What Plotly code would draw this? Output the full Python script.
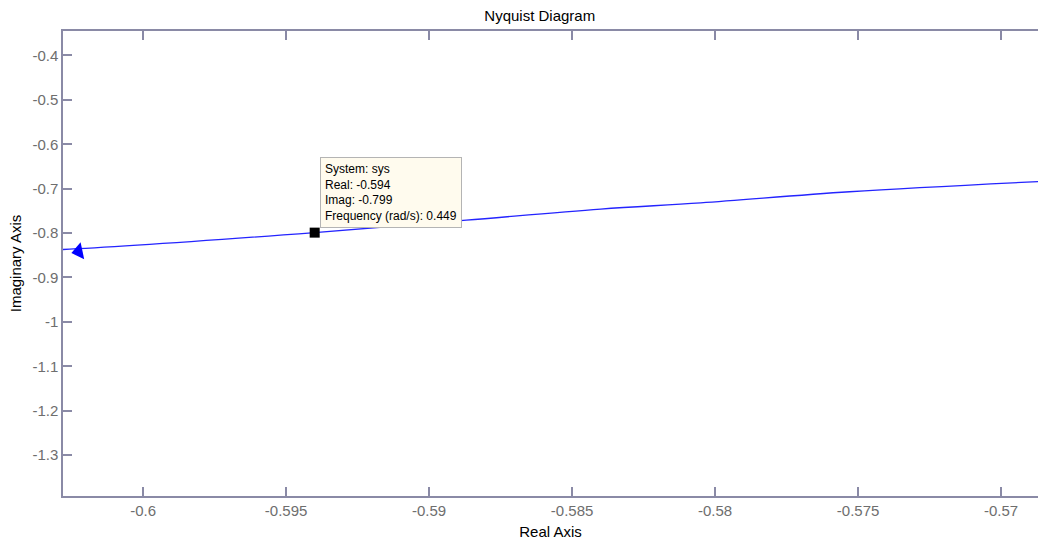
import plotly.graph_objects as go

# Nyquist curve samples
real_vals = [-0.6035, -0.6028, -0.5940, -0.5887, -0.5840, -0.5805, -0.5753, -0.5687, -0.5680]
imag_vals = [-0.838, -0.837, -0.799, -0.771, -0.746, -0.732, -0.707, -0.684, -0.682]

# direction arrow
arrow_real = [-0.60225]
arrow_imag = [-0.8415]

# data tip
tip_real = -0.594
tip_imag = -0.799
tip_freq = 0.449

x_tickvals = [-0.6, -0.595, -0.59, -0.585, -0.58, -0.575, -0.57]
x_ticktext = ["-0.6", "-0.595", "-0.59", "-0.585", "-0.58", "-0.575", "-0.57"]
y_tickvals = [-0.4, -0.5, -0.6, -0.7, -0.8, -0.9, -1.0, -1.1, -1.2, -1.3]
y_ticktext = ["-0.4", "-0.5", "-0.6", "-0.7", "-0.8", "-0.9", "-1", "-1.1", "-1.2", "-1.3"]

x_range = [-0.6028, -0.56871]
y_range = [-1.392, -0.345]

FONT = "Liberation Sans, Arial, sans-serif"
AXIS_COLOR = "#8a8aa6"
LABEL_COLOR = "#6e6e6e"

fig = go.Figure()
fig.add_trace(go.Scatter(x=real_vals, y=imag_vals, mode="lines",
                         line=dict(color="#2424ff", width=1.3, shape="spline", smoothing=1.0),
                         hoverinfo="skip", showlegend=False))
fig.add_trace(go.Scatter(x=arrow_real, y=arrow_imag, mode="markers",
                         marker=dict(symbol="triangle-left", size=15, color="#0000ff",
                                     angle=-12, line=dict(width=0)),
                         hoverinfo="skip", showlegend=False))
fig.add_trace(go.Scatter(x=[tip_real], y=[tip_imag], mode="markers",
                         marker=dict(symbol="square", size=10, color="black",
                                     line=dict(width=0)),
                         hoverinfo="skip", showlegend=False))

tip_text = (f"System: sys<br>Real: {tip_real}<br>Imag: {tip_imag}"
            f"<br>Frequency (rad/s): {tip_freq}")
fig.add_annotation(x=tip_real, y=tip_imag, xref="x", yref="y",
                   text=tip_text, showarrow=False, align="left",
                   xanchor="left", yanchor="bottom", xshift=5, yshift=5,
                   font=dict(family=FONT, size=12, color="black"),
                   bgcolor="#fffbee", bordercolor="#b4b4b4", borderwidth=1,
                   borderpad=4)

fig.update_layout(
    width=1038, height=541,
    margin=dict(l=63, r=0, t=31, b=45),
    paper_bgcolor="white", plot_bgcolor="white",
    title=dict(text="Nyquist Diagram", x=0.52, xanchor="center", y=0.97, yanchor="middle",
               font=dict(family=FONT, size=15, color="black")),
    xaxis=dict(range=x_range, tickvals=x_tickvals, ticktext=x_ticktext,
               showgrid=False, zeroline=False, showline=True, linecolor=AXIS_COLOR,
               linewidth=1.5, mirror="ticks", ticks="inside", ticklen=9,
               tickcolor=AXIS_COLOR, tickwidth=1.5,
               tickfont=dict(family=FONT, size=15, color=LABEL_COLOR),
               title=dict(text="Real Axis", standoff=9,
                          font=dict(family=FONT, size=15, color="black"))),
    yaxis=dict(range=y_range, tickvals=y_tickvals, ticktext=y_ticktext,
               showgrid=False, zeroline=False, showline=True, linecolor=AXIS_COLOR,
               linewidth=1.5, ticks="inside", ticklen=9,
               tickcolor=AXIS_COLOR, tickwidth=1.5,
               tickfont=dict(family=FONT, size=15, color=LABEL_COLOR),
               title=dict(text="Imaginary Axis", standoff=7,
                          font=dict(family=FONT, size=15, color="black"))),
)

fig.write_html("out.html")
